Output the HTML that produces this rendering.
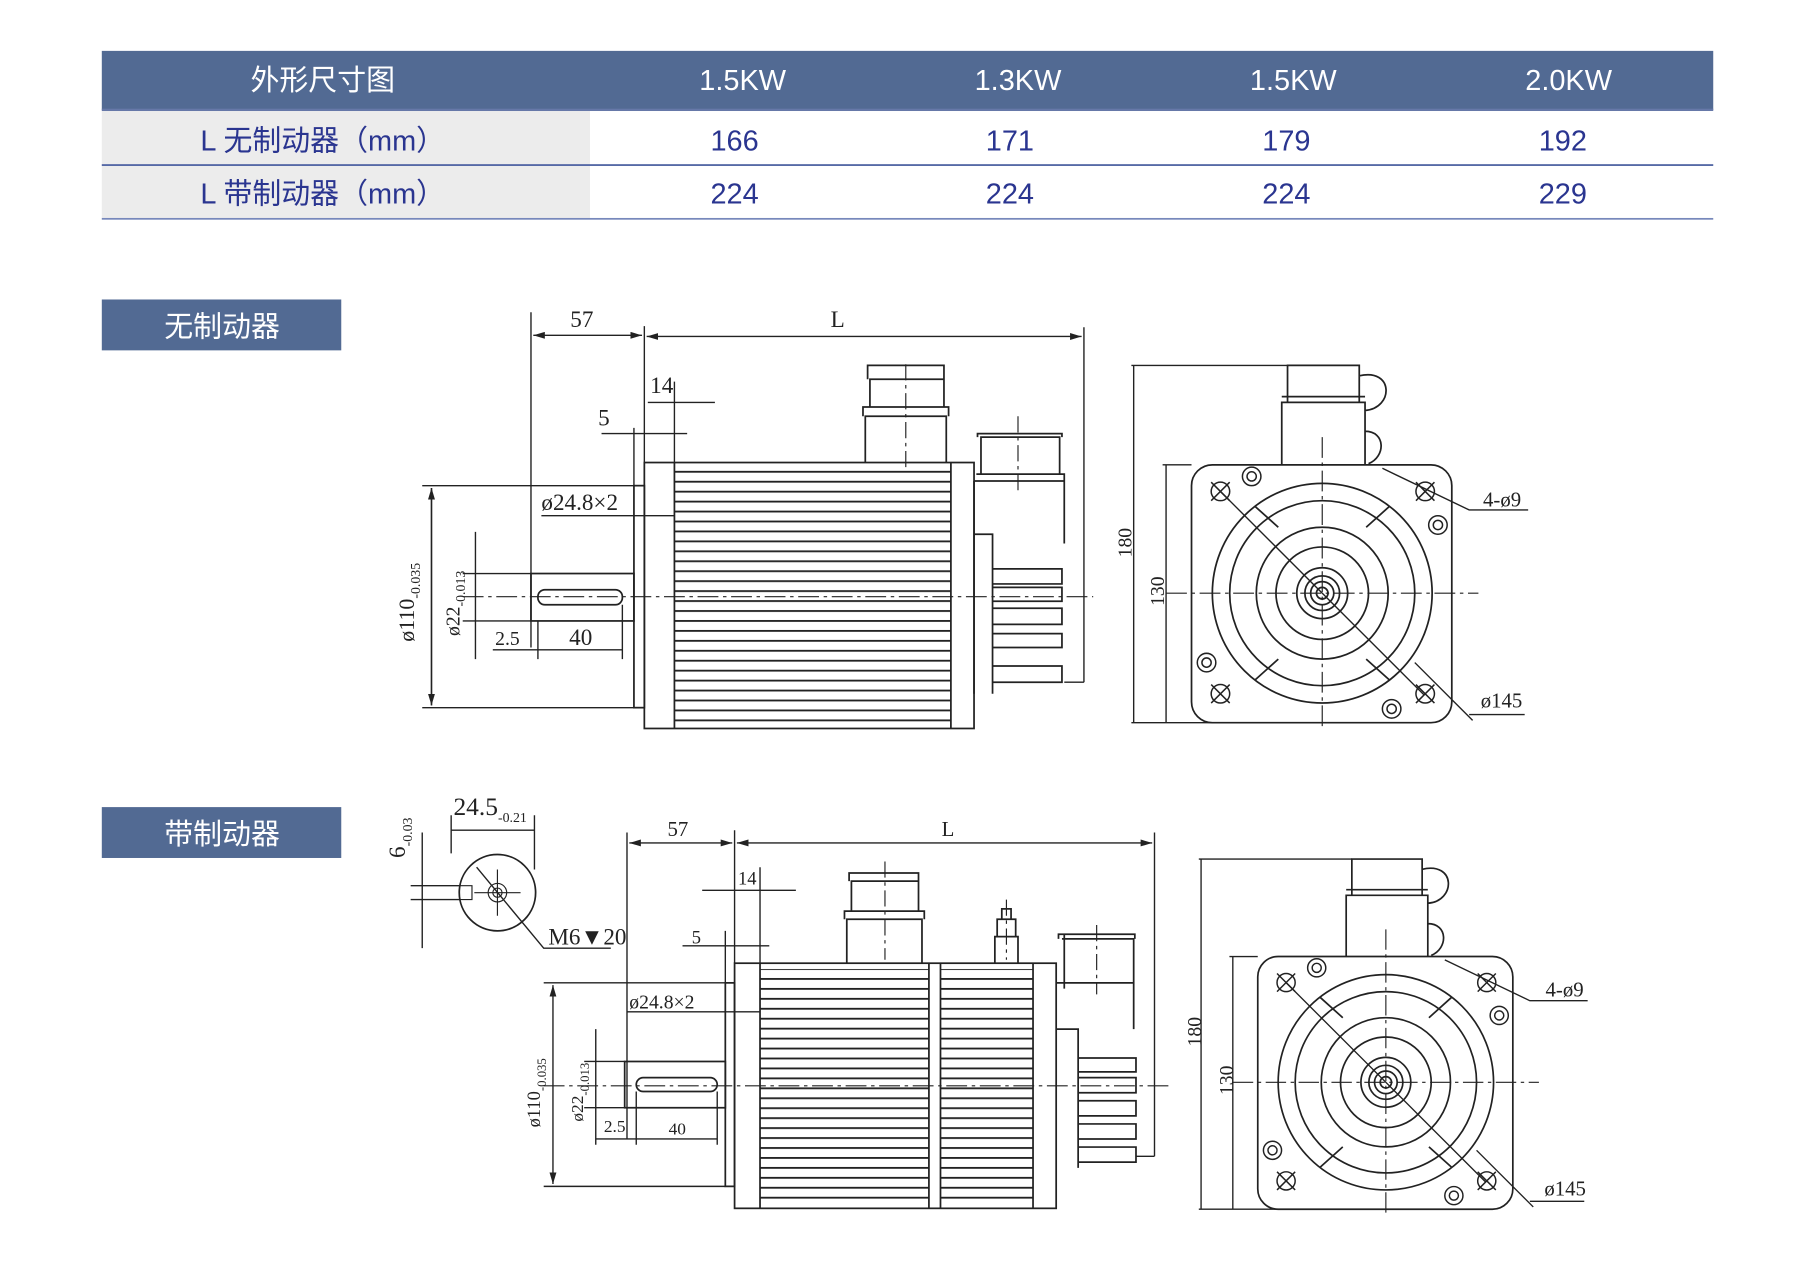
<!DOCTYPE html>
<html><head><meta charset="utf-8"><style>
html,body{margin:0;padding:0;background:#fff;}
svg{display:block}
.t{font-family:"Liberation Sans","Noto Sans CJK SC",sans-serif}
.d{font-family:"Liberation Serif","Noto Serif CJK SC",serif;fill:#222}
</style></head><body>
<svg width="1800" height="1265" viewBox="0 0 1556 1094" preserveAspectRatio="none" xmlns="http://www.w3.org/2000/svg">
<defs>
<pattern id="fin" x="0" y="0" width="10" height="8.6" patternUnits="userSpaceOnUse"><rect width="10" height="1.6" y="3" fill="#222"/></pattern>
<marker id="a" markerWidth="10" markerHeight="6" refX="10" refY="3" orient="auto-start-reverse" markerUnits="userSpaceOnUse"><path d="M0,0 L10,3 L0,6z" fill="#222"/></marker>
<g id="front" fill="none" stroke="#222" stroke-width="1.5">
<rect x="-113" y="-111" width="225" height="223" rx="18"/>
<path d="M-35,-111 V-165 H37 V-111 M-30,-165 V-197 H32 V-165 M-35,-170 H37 M37,-140 C55,-140 55,-118 40,-112 M32,-188 C62,-195 62,-160 37,-158"/>
<circle r="95"/><circle r="80"/><circle r="57"/><circle r="40"/><circle r="22"/><circle r="15"/><circle r="10"/><circle r="5"/>
<path d="M-58,-75 L-38,-57 M58,-75 L38,-57 M-58,75 L-38,57 M58,75 L38,57" stroke-width="1.5"/>
<path d="M-88,-88 L88,88 M130,110 L80,60" stroke-width="1.2"/>
<path d="M-135,0 H135 M0,-135 V118" stroke-width="1" stroke-dasharray="18,4,3,4"/>
<g stroke-width="1.3">
<circle cx="-88" cy="-88" r="8"/><path d="M-96,-96 L-80,-80 M-80,-96 L-96,-80"/>
<circle cx="89" cy="-88" r="8"/><path d="M81,-96 L97,-80 M97,-96 L81,-80"/>
<circle cx="-88" cy="87" r="8"/><path d="M-96,79 L-80,95 M-80,79 L-96,95"/>
<circle cx="89" cy="87" r="8"/><path d="M81,79 L97,95 M97,79 L81,95"/>
<circle cx="-61" cy="-101" r="8"/><circle cx="-61" cy="-101" r="4"/>
<circle cx="100" cy="-59" r="8"/><circle cx="100" cy="-59" r="4"/>
<circle cx="-100" cy="60" r="8"/><circle cx="-100" cy="60" r="4"/>
<circle cx="60" cy="100" r="8"/><circle cx="60" cy="100" r="4"/>
</g>
<path d="M-165,-197 H-30 M-165,112 H-20 M-138,-111 H-113 M-163,-197 V112 M-135,-111 V112" stroke-width="1.2"/>
<path d="M52,-108 L127,-72 H178 M127,105 H175" stroke-width="1.2"/>
</g>
</defs>

<!-- table -->
<rect x="88" y="44" width="1393" height="51" fill="#526a93"/>
<rect x="88" y="95" width="422" height="94" fill="#ececec"/>
<rect x="88" y="94" width="1393" height="2" fill="#6678a8"/>
<rect x="88" y="142" width="1393" height="1.5" fill="#4a5fa0"/>
<rect x="88" y="188.5" width="1393" height="1.5" fill="#7788bb"/>
<g class="t" font-size="25" fill="#fff" text-anchor="middle">
<text x="279" y="78">外形尺寸图</text><text x="642" y="78">1.5KW</text><text x="880" y="78">1.3KW</text><text x="1118" y="78">1.5KW</text><text x="1356" y="78">2.0KW</text>
</g>
<g class="t" font-size="25" fill="#2a3590" text-anchor="middle">
<text x="279" y="130">L 无制动器（mm）</text><text x="635" y="130">166</text><text x="873" y="130">171</text><text x="1112" y="130">179</text><text x="1351" y="130">192</text>
<text x="279" y="176">L 带制动器（mm）</text><text x="635" y="176">224</text><text x="873" y="176">224</text><text x="1112" y="176">224</text><text x="1351" y="176">229</text>
</g>
<rect x="88" y="259" width="207" height="44" fill="#526a93"/>
<text class="t" x="192" y="291" font-size="25" fill="#fff" text-anchor="middle">无制动器</text>
<rect x="88" y="698" width="207" height="44" fill="#526a93"/>
<text class="t" x="192" y="730" font-size="25" fill="#fff" text-anchor="middle">带制动器</text>

<!-- side view 1 -->
<g fill="none" stroke="#222" stroke-width="1.5">
<rect x="583" y="405" width="239" height="220" fill="url(#fin)" stroke="none"/>
<rect x="557" y="400" width="285" height="230"/>
<path d="M583,400 V630 M822,400 V630"/>
<rect x="548" y="420" width="9" height="192"/>
<rect x="459" y="496" width="89" height="41"/>
<rect x="465" y="510" width="73" height="13" rx="6"/>
<path d="M748,400 V360 H818 V400 M746,360 V352 H820 V360 M752,352 V328 H816 V352 M750,328 V316 H816 V328"/>
<path d="M842,416 H920 V470 M842,416 V600 M848,410 V378 H916 V410 M845,378 V375 H918 V378 M844,410 H920 V416 M842,462 H858 V600 M858,492 H918 V505 H858 M858,508 H918 V520 H858 M858,526 H918 V540 H858 M858,548 H918 V560 H858 M858,576 H918 V590 H858"/>
<path d="M880,360 V425 M783,315 V405" stroke-width="1" stroke-dasharray="14,4,3,4"/>
<path d="M400,516 H945" stroke-width="1" stroke-dasharray="18,4,3,4"/>
<g stroke-width="1.2">
<path d="M459,270 V560 M557,282 V400 M937,283 V590 M920,590 H937"/>
<path d="M461,290 H555" marker-start="url(#a)" marker-end="url(#a)"/>
<path d="M559,291 H935" marker-start="url(#a)" marker-end="url(#a)"/>
<path d="M583,330 V400 M560,348 H618 M520,375 H594 M548,370 V420"/>
<path d="M365,420 H548 M365,612 H548 M373,422 V610" />
<path d="M373,422 V610" marker-start="url(#a)" marker-end="url(#a)"/>
<path d="M400,496 H459 M400,537 H459 M411,460 V570"/>
<path d="M468,446 H583"/>
<path d="M426,562 H538 M465,537 V570 M538,523 V570"/>
</g>
</g>
<g class="d" font-size="20">
<text x="493" y="283">57</text><text x="718" y="283">L</text><text x="562" y="340">14</text><text x="517" y="368">5</text>
<text x="468" y="441">ø24.8×2</text><text x="428" y="558" font-size="17">2.5</text><text x="492" y="558">40</text>
<text transform="translate(358,555) rotate(-90)" font-size="19">ø110<tspan font-size="12" dy="5">-0.035</tspan></text>
<text transform="translate(397,550) rotate(-90)" font-size="17">ø22<tspan font-size="12" dy="5">-0.013</tspan></text>
<text transform="translate(978,482) rotate(-90)" font-size="17">180</text>
<text transform="translate(1006,524) rotate(-90)" font-size="17">130</text>
<text x="1282" y="438" font-size="18">4-ø9</text><text x="1280" y="612" font-size="18">ø145</text>
</g>
<use href="#front" x="1143" y="513"/>

<!-- side view 2 -->
<g fill="none" stroke="#222" stroke-width="1.5">
<rect x="657" y="838" width="146" height="203" fill="url(#fin)" stroke="none"/>
<rect x="813" y="838" width="80" height="203" fill="url(#fin)" stroke="none"/>
<rect x="635" y="833" width="278" height="212"/>
<path d="M657,833 V1045 M803,833 V1045 M813,833 V1045 M893,833 V1045"/>
<rect x="627" y="850" width="8" height="176"/>
<rect x="540" y="918" width="87" height="40"/>
<rect x="550" y="932" width="70" height="12" rx="6"/>
<path d="M732,833 V795 H797 V833 M730,795 V788 H799 V795 M736,788 V762 H794 V788 M734,762 V755 H794 V762"/>
<path d="M860,833 V810 H880 V833 M862,810 V795 H878 V810 M866,795 V786 H874 V795"/>
<path d="M913,850 H980 V890 M918,812 H980 V852 M915,812 V808 H981 V812 M920,808 V855 M913,890 H932 V1010 M932,915 H982 V927 H932 M932,932 H982 V945 H932 M932,952 H982 V965 H932 M932,972 H982 V985 H932 M932,992 H982 V1005 H932"/>
<path d="M948,800 V860 M765,745 V830 M870,778 V830" stroke-width="1" stroke-dasharray="14,4,3,4"/>
<path d="M470,939 H1010" stroke-width="1" stroke-dasharray="18,4,3,4"/>
<g stroke-width="1.2">
<path d="M542,720 V985 M635,718 V833 M998,720 V1000 M982,1000 H998"/>
<path d="M544,729 H633" marker-start="url(#a)" marker-end="url(#a)"/>
<path d="M637,729 H996" marker-start="url(#a)" marker-end="url(#a)"/>
<path d="M657,750 V833 M607,770 H688 M590,818 H665 M627,805 V850"/>
<path d="M470,850 H627 M470,1026 H627"/>
<path d="M478,852 V1024" marker-start="url(#a)" marker-end="url(#a)"/>
<path d="M505,918 H540 M505,958 H540 M515,890 V990 M542,875 H657"/>
<path d="M515,985 H620 M550,944 V990 M620,944 V990"/>
</g>
<!-- keyway detail -->
<circle cx="430" cy="772" r="33"/>
<path d="M397,766 H408 V778 H397 M430,752 V792 M410,772 H450" stroke-width="1"/>
<circle cx="430" cy="772" r="8" stroke-width="1"/><circle cx="430" cy="772" r="4" stroke-width="1"/>
<path d="M390,718 H462 M390,705 V738 M462,705 V752 M355,766 H397 M355,778 H397 M365,720 V820" stroke-width="1.2"/>
<path d="M412,750 L470,820 H528" stroke-width="1.2"/>
</g>
<g class="d" font-size="18">
<text x="577" y="723">57</text><text x="814" y="723">L</text><text x="638" y="765" font-size="16">14</text><text x="598" y="816" font-size="16">5</text>
<text x="544" y="872" font-size="17">ø24.8×2</text><text x="522" y="979" font-size="15">2.5</text><text x="578" y="981" font-size="15">40</text>
<text transform="translate(467,975) rotate(-90)" font-size="16">ø110<tspan font-size="11" dy="5">-0.035</tspan></text>
<text transform="translate(504,970) rotate(-90)" font-size="15">ø22<tspan font-size="11" dy="5">-0.013</tspan></text>
<text transform="translate(1038,905) rotate(-90)" font-size="17">180</text>
<text transform="translate(1066,947) rotate(-90)" font-size="17">130</text>
<text x="1336" y="862">4-ø9</text><text x="1335" y="1034">ø145</text>
<text x="392" y="705" font-size="22">24.5<tspan font-size="12" dy="6">-0.21</tspan></text>
<text transform="translate(350,742) rotate(-90)" font-size="20">6<tspan font-size="12" dy="6">-0.03</tspan></text>
<text x="474" y="817" font-size="20">M6▼20</text>
</g>
<use href="#front" transform="translate(1198,936) scale(0.98)"/>
</svg>
</body></html>
